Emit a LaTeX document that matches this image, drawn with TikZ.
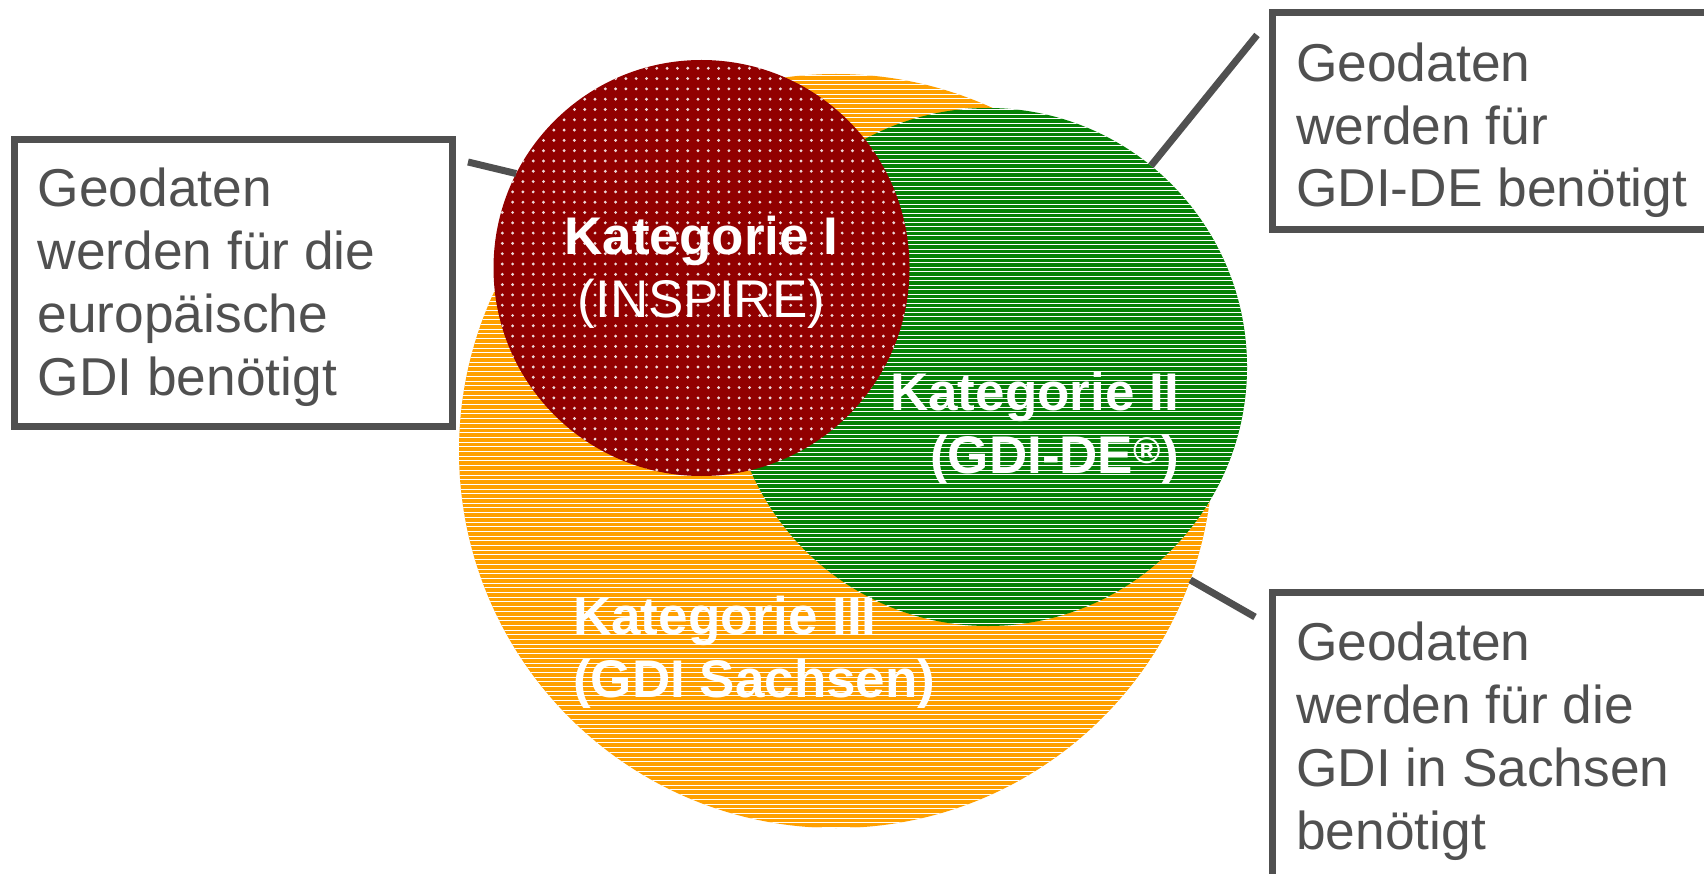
\documentclass[tikz,border=0pt]{standalone}
\usepackage{fontspec}
\setmainfont{Liberation Sans}
\definecolor{boxgray}{RGB}{80,80,80}
\definecolor{korange}{RGB}{255,160,0}
\definecolor{kgreen}{RGB}{6,128,6}
\definecolor{kred}{RGB}{145,0,0}
\begin{document}
\begin{tikzpicture}[x=1pt,y=-1pt,
  infobox/.style={draw=boxgray, line width=7pt, rectangle, inner sep=0pt, outer sep=0pt, anchor=north west},
  infotext/.style={text=boxgray, font=\fontsize{53.3}{62.7}\selectfont, align=left, anchor=base west, inner sep=0pt},
  cattext/.style={text=white, font=\fontsize{53}{63}\selectfont\bfseries, inner sep=0pt},
  link/.style={draw=boxgray, line width=7pt},
  setcircle/.style={circle, inner sep=0pt, outer sep=0pt, draw=none},
  stripe/.style={white, line width=1.0pt},
  dotmark/.style={fill=white!85!kred}
]
\useasboundingbox (0,0) rectangle (1704,874);
\clip (0,0) rectangle (1704,874);

% --- circles ---
\node[setcircle, fill=korange, minimum size=754pt] (orangeC) at (836,451) {};
\begin{scope}
  \clip (836,451) circle[radius=377];
  \foreach \yy in {75.5,80.2,...,830} \draw[stripe] (455,\yy) -- (1217,\yy);
\end{scope}

\node[setcircle, fill=kgreen, minimum size=518pt] (greenC) at (988,367) {};
\begin{scope}
  \clip (988,367) circle[radius=259];
  \foreach \yy in {110,114.5,...,628} \draw[stripe] (725,\yy) -- (1250,\yy);
\end{scope}

\node[setcircle, fill=kred, minimum size=416pt] (redC) at (701.5,268) {};
\begin{scope}
  \clip (701.5,268) circle[radius=208];
  \foreach \i in {0,...,41} \foreach \j in {0,...,41}
    \fill[dotmark] (492+\i*10.3, 58+\j*10.3) circle[radius=1.6];
\end{scope}

% --- boxes ---
\node[infobox, minimum width=438pt, minimum height=286pt] (lbox) at (14,140) {};
\node[infobox, minimum width=440pt, minimum height=217pt] (trbox) at (1272,13) {};
\node[infobox, minimum width=440pt, minimum height=293pt] (brbox) at (1272,592) {};

% anchor "base" of a multi-line node is the baseline of its last line
\node[infotext] (ltext) at (37.5,395) {Geodaten\\werden für die\\europäische\\GDI benötigt};
\node[infotext] (trtext) at (1296,207) {Geodaten\\werden für\\GDI-DE benötigt};
\node[infotext] (brtext) at (1296,849) {Geodaten\\werden für die\\GDI in Sachsen\\benötigt};

% --- connectors ---
\coordinate (lend) at (468,162);
\coordinate (trend) at (1257,35);
\coordinate (brend) at (1255,617);
\draw[link] (lend) -- (redC.153.9);
\draw[link] (trend) -- (greenC.51.5);
\draw[link] (brend) -- (orangeC.-20.6);

% --- category labels ---
\node[cattext, align=center, anchor=base] (k1) at (701.5,318) {Kategorie I\\{\mdseries (INSPIRE)}};
\node[cattext, align=right, anchor=base east] (k2) at (1179,473) {Kategorie II\\(GDI-DE\textsuperscript{®})};
\node[cattext, align=left, anchor=base west] (k3) at (573,697) {Kategorie III\\(GDI Sachsen)};
\end{tikzpicture}
\end{document}
